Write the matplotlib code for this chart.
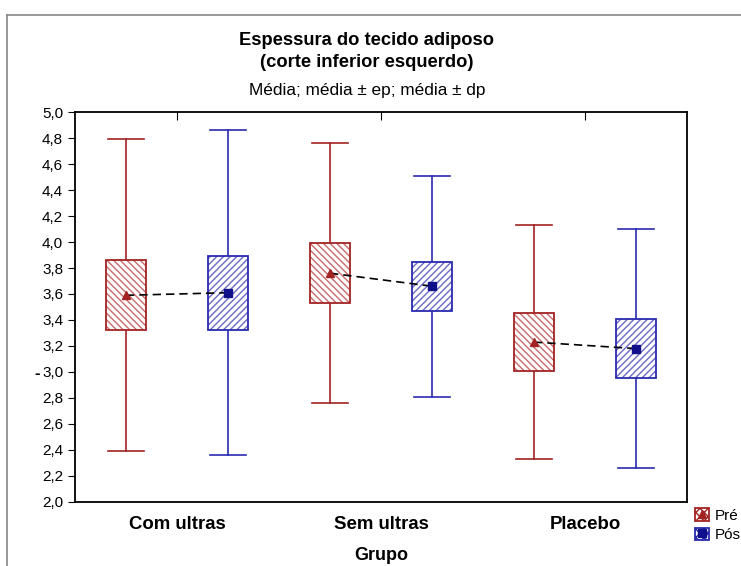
import matplotlib
matplotlib.use("Agg")
import matplotlib.pyplot as plt
import numpy as np
from matplotlib.patches import Rectangle, Patch
from matplotlib.lines import Line2D
from matplotlib.legend_handler import HandlerTuple

plt.rcParams['font.family'] = ['Liberation Sans', 'DejaVu Sans']
plt.rcParams['hatch.linewidth'] = 1.0

grupos = ['Com ultras', 'Sem ultras', 'Placebo']
media_pre = [3.59, 3.76, 3.23]
ep_pre = [0.27, 0.23, 0.22]
dp_pre = [1.20, 1.00, 0.90]
media_pos = [3.61, 3.66, 3.18]
ep_pos = [0.285, 0.19, 0.23]
dp_pos = [1.25, 0.85, 0.92]

red = '#a32323'
blue = '#2a2ab0'
navy = '#10108a'
red_light = '#c86a6a'
blue_light = '#6a6ac8'

fig = plt.figure(figsize=(7.41, 5.66), dpi=100)
ax = fig.add_axes([0.1012, 0.1131, 0.8259, 0.689])

# outer frame (left and top edges)
fig.add_artist(Line2D([0.0095, 0.0095], [0, 0.973], transform=fig.transFigure, color='#888888', lw=1.2))
fig.add_artist(Line2D([0.0095, 1.0], [0.973, 0.973], transform=fig.transFigure, color='#888888', lw=1.2))

def draw_box(x, m, se, sd, color, hcolor, mcolor, hatch, marker):
    w = 0.2
    cap = 0.09
    ax.plot([x, x], [m + se, m + sd], color=color, lw=1.2, zorder=2)
    ax.plot([x, x], [m - sd, m - se], color=color, lw=1.2, zorder=2)
    ax.plot([x - cap, x + cap], [m + sd, m + sd], color=color, lw=1.2, zorder=2)
    ax.plot([x - cap, x + cap], [m - sd, m - sd], color=color, lw=1.2, zorder=2)
    # hatch in lighter tone, then the solid outline on top
    ax.add_patch(Rectangle((x - w / 2, m - se), w, 2 * se, facecolor='white', edgecolor=hcolor,
                           hatch=hatch, lw=0, zorder=3))
    ax.add_patch(Rectangle((x - w / 2, m - se), w, 2 * se, facecolor='none', edgecolor=color,
                           lw=1.3, zorder=3.5))
    ax.plot(x, m, marker=marker, color=mcolor, ms=6, zorder=5)

off = 0.25
for i in range(len(grupos)):
    xc = i + 1
    draw_box(xc - off, media_pre[i], ep_pre[i], dp_pre[i], red, red_light, red, '\\\\\\\\\\', '^')
    draw_box(xc + off, media_pos[i], ep_pos[i], dp_pos[i], blue, blue_light, navy, '/////', 's')
    ax.plot([xc - off, xc + off], [media_pre[i], media_pos[i]], color='black',
            ls=(0, (5, 3)), lw=1.2, zorder=4)

ax.set_xlim(0.5, 3.5)
ax.set_ylim(2.0, 5.0)
ax.set_yticks(np.arange(2.0, 5.01, 0.2))
ax.set_yticklabels([('%.1f' % v).replace('.', ',') for v in np.arange(2.0, 5.01, 0.2)], fontsize=11)
ax.set_xticks([1, 2, 3])
ax.set_xticklabels(grupos, fontsize=13.4, fontweight='bold')
ax.tick_params(axis='x', which='both', bottom=False, top=True, direction='in', length=6, pad=10)
ax.tick_params(axis='y', direction='out', length=5, right=False)
for s in ax.spines.values():
    s.set_linewidth(1.3)

ax.set_xlabel('Grupo', fontsize=13, fontweight='bold', labelpad=10)
ax.set_ylabel('-', fontsize=12, fontweight='bold', rotation=0)
ax.yaxis.set_label_coords(-0.062, 0.31)

fig.text(0.495, 0.928, 'Espessura do tecido adiposo', ha='center', va='center', fontsize=13.2, fontweight='bold')
fig.text(0.495, 0.889, '(corte inferior esquerdo)', ha='center', va='center', fontsize=13.2, fontweight='bold')
fig.text(0.495, 0.840, 'Média; média ± ep; média ± dp', ha='center', va='center', fontsize=12.4)

h_pre = (Patch(facecolor='white', edgecolor=red, hatch='xxxx', lw=1.3),
         Line2D([], [], marker='^', color=red, ls='none', ms=6))
h_pos = (Patch(facecolor='white', edgecolor=blue, hatch='xxxx', lw=1.3),
         Line2D([], [], marker='s', color=navy, ls='none', ms=6))
fig.legend([h_pre, h_pos], ['Pré', 'Pós'], handler_map={tuple: HandlerTuple(ndivide=1)},
           loc='center left', bbox_to_anchor=(0.938, 0.072), frameon=False, fontsize=11,
           handlelength=0.9, handleheight=0.9, handletextpad=0.4, labelspacing=0.3,
           borderaxespad=0, borderpad=0)

fig.savefig('out.png', dpi=100)
